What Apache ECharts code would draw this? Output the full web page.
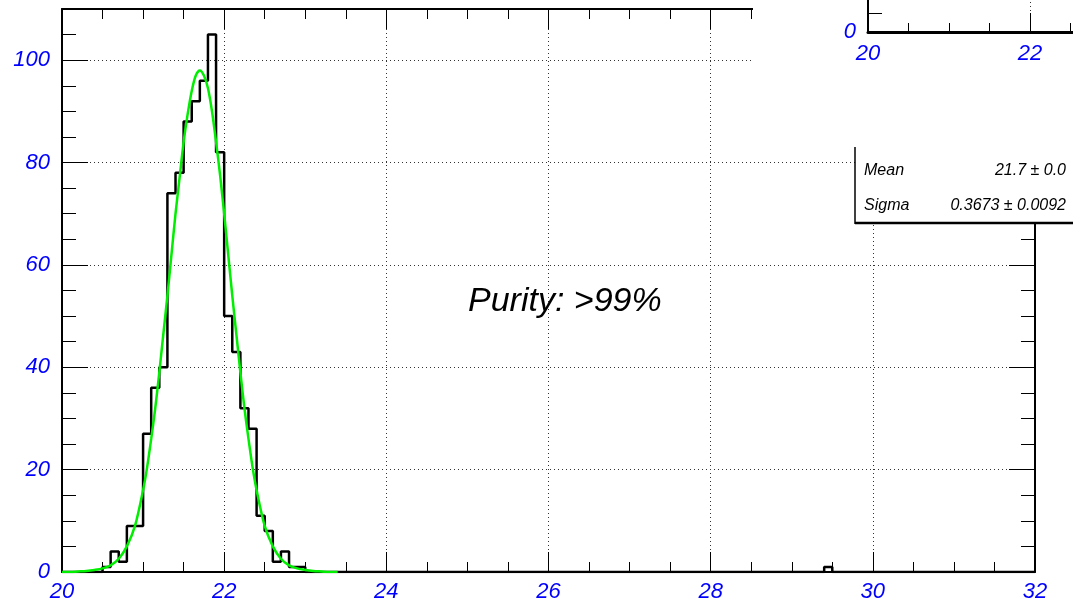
<!DOCTYPE html>
<html>
<head>
<meta charset="utf-8">
<script src="https://cdn.jsdelivr.net/npm/echarts@6/dist/echarts.min.js"></script>
<style>
html, body { margin: 0; padding: 0; background: #fff; }
#chart { width: 1073px; height: 602px; }
</style>
</head>
<body>
<div id="chart"></div>
<script>
// histogram: 120 bins of 0.1 from 20.0 to 32.0
const binStart = 20;
const binWidth = 0.1;
const counts = [
  0, 0, 0, 0, 0, 1, 4, 2, 9, 9,
  27, 36, 40, 74, 78, 88, 92, 96, 105, 82,
  50, 43, 32, 28, 11, 8, 2, 4, 1, 1,
  0, 0, 0, 0, 0, 0, 0, 0, 0, 0,
  0, 0, 0, 0, 0, 0, 0, 0, 0, 0,
  0, 0, 0, 0, 0, 0, 0, 0, 0, 0,
  0, 0, 0, 0, 0, 0, 0, 0, 0, 0,
  0, 0, 0, 0, 0, 0, 0, 0, 0, 0,
  0, 0, 0, 0, 0, 0, 0, 0, 0, 0,
  0, 0, 0, 0, 1, 0, 0, 0, 0, 0,
  0, 0, 0, 0, 0, 0, 0, 0, 0, 0,
  0, 0, 0, 0, 0, 0, 0, 0, 0, 0,
];

// gaussian fit curve
const fitX = [20.0, 20.1, 20.2, 20.3, 20.4, 20.5, 20.6, 20.7, 20.8, 20.9,
  21.0, 21.05, 21.1, 21.15, 21.2, 21.25, 21.3, 21.35, 21.4, 21.45,
  21.5, 21.55, 21.6, 21.65, 21.7, 21.75, 21.8, 21.85, 21.9, 21.95,
  22.0, 22.05, 22.1, 22.15, 22.2, 22.25, 22.3, 22.35, 22.4, 22.5,
  22.6, 22.7, 22.8, 22.9, 23.0, 23.1, 23.2, 23.3, 23.4];
const fitY = [0, 0, 0.1, 0.2, 0.4, 0.7, 1.3, 2.6, 5.0, 9.0,
  16, 20.5, 26, 32, 39, 46.5, 54, 62, 70, 77,
  84, 89.5, 94, 97, 98, 97, 94.5, 90, 84, 77.5,
  70, 62, 54, 46.5, 39, 32, 26, 20.5, 16, 9,
  5, 2.6, 1.3, 0.7, 0.4, 0.2, 0.1, 0, 0];

const statsNames = ['Mean', 'Sigma'];
const statsValues = ['21.7 \u00b1 0.0', '0.3673 \u00b1 0.0092'];
const annotation = 'Purity: >99%';

const histSteps = [];
counts.forEach((c, i) => {
  const lo = +(binStart + i * binWidth).toFixed(1);
  const hi = +(binStart + (i + 1) * binWidth).toFixed(1);
  histSteps.push([lo, c], [hi, c]);
});
const fitPoints = fitX.map((x, i) => [x, fitY[i]]);

const blue = '#0000ff';
const fontFam = '"Liberation Sans", Arial, sans-serif';
const frameLine = { show: true, onZero: false, lineStyle: { color: '#000', width: 2 } };
const noLine = { show: false, onZero: false };
const dotted = { show: true, lineStyle: { color: '#333', width: 1, type: [1, 3] } };
const tickStyle = { color: '#000', width: 1 };
const labelStyle = { color: blue, fontSize: 22, fontStyle: 'italic', fontFamily: fontFam };
const statsFont = 'italic 16px ' + fontFam;

const chart = echarts.init(document.getElementById('chart'));
chart.setOption({
  animation: false,
  backgroundColor: '#fff',
  grid: [
    { left: 62, top: 9, width: 973, height: 563, outerBoundsMode: 'none' },
    { left: 868, top: -6, width: 324, height: 38, outerBoundsMode: 'none' },
  ],
  xAxis: [
    {
      type: 'value', gridIndex: 0, position: 'bottom', min: 20, max: 32, interval: 2,
      axisLine: frameLine,
      axisTick: { inside: true, length: 20, lineStyle: tickStyle },
      minorTick: { show: true, splitNumber: 4, length: 10, lineStyle: tickStyle },
      axisLabel: { ...labelStyle, margin: 9 },
      splitLine: dotted,
    },
    {
      type: 'value', gridIndex: 0, position: 'top', min: 20, max: 32, interval: 2,
      axisLine: frameLine,
      axisTick: { inside: true, length: 20, lineStyle: tickStyle },
      minorTick: { show: true, splitNumber: 4, length: 10, lineStyle: tickStyle },
      axisLabel: { show: false },
      splitLine: { show: false },
    },
    {
      type: 'value', gridIndex: 1, position: 'bottom', min: 20, max: 24, interval: 2, z: 100,
      axisLine: { show: true, onZero: false, lineStyle: { color: '#000', width: 3 } },
      axisTick: { inside: true, length: 19, lineStyle: tickStyle },
      minorTick: { show: true, splitNumber: 4, length: 9, lineStyle: tickStyle },
      axisLabel: { ...labelStyle, margin: 11 },
      splitLine: dotted,
    },
  ],
  yAxis: [
    {
      type: 'value', gridIndex: 0, position: 'left', min: 0, max: 110, interval: 20,
      axisLine: frameLine,
      axisTick: { inside: true, length: 26, lineStyle: tickStyle },
      axisLabel: { ...labelStyle, margin: 12, showMaxLabel: false },
      splitLine: dotted,
    },
    {
      type: 'value', gridIndex: 0, position: 'left', min: 0, max: 110, interval: 5,
      axisLine: noLine,
      axisTick: { inside: true, length: 14, lineStyle: tickStyle },
      axisLabel: { show: false },
      splitLine: { show: false },
    },
    {
      type: 'value', gridIndex: 0, position: 'right', min: 0, max: 110, interval: 20,
      axisLine: frameLine,
      axisTick: { inside: true, length: 26, lineStyle: tickStyle },
      axisLabel: { show: false },
      splitLine: { show: false },
    },
    {
      type: 'value', gridIndex: 0, position: 'right', min: 0, max: 110, interval: 5,
      axisLine: noLine,
      axisTick: { inside: true, length: 14, lineStyle: tickStyle },
      axisLabel: { show: false },
      splitLine: { show: false },
    },
    {
      type: 'value', gridIndex: 1, position: 'left', min: 0, max: 2, interval: 2, z: 100,
      axisLine: frameLine,
      axisTick: { inside: true, length: 19, lineStyle: tickStyle },
      minorTick: { show: true, splitNumber: 2, length: 14, lineStyle: tickStyle },
      axisLabel: { ...labelStyle, margin: 12, showMaxLabel: false },
      splitLine: { show: false },
    },
  ],
  series: [
    {
      name: 'hist',
      type: 'line',
      xAxisIndex: 0,
      yAxisIndex: 0,
      data: histSteps,
      symbol: 'none',
      lineStyle: { color: '#000', width: 2.5 },
      z: 3,
    },
    {
      name: 'fit',
      type: 'line',
      xAxisIndex: 0,
      yAxisIndex: 0,
      data: fitPoints,
      symbol: 'none',
      smooth: 0.3,
      lineStyle: { color: '#00ee00', width: 2.5 },
      z: 4,
    },
  ],
  graphic: [
    { type: 'rect', z: 50, shape: { x: 753, y: 0, width: 330, height: 147 }, style: { fill: '#fff' } },
    { type: 'rect', z: 60, shape: { x: 855, y: 147, width: 230, height: 77 }, style: { fill: '#fff' } },
    { type: 'line', z: 61, shape: { x1: 855, y1: 147, x2: 855, y2: 224 }, style: { stroke: '#000', lineWidth: 1.5 } },
    { type: 'line', z: 61, shape: { x1: 855, y1: 223, x2: 1073, y2: 223 }, style: { stroke: '#000', lineWidth: 2.5 } },
    { type: 'text', z: 62, style: { x: 864, y: 171, text: statsNames[0], font: statsFont, fill: '#000', verticalAlign: 'middle' } },
    { type: 'text', z: 62, style: { x: 1066, y: 171, text: statsValues[0], font: statsFont, fill: '#000', align: 'right', verticalAlign: 'middle' } },
    { type: 'text', z: 62, style: { x: 864, y: 206, text: statsNames[1], font: statsFont, fill: '#000', verticalAlign: 'middle' } },
    { type: 'text', z: 62, style: { x: 1066, y: 206, text: statsValues[1], font: statsFont, fill: '#000', align: 'right', verticalAlign: 'middle' } },
    { type: 'text', z: 62, style: { x: 468, y: 302, text: annotation, font: 'italic 34px ' + fontFam, fill: '#000', verticalAlign: 'middle' } },
  ],
});
</script>
</body>
</html>
